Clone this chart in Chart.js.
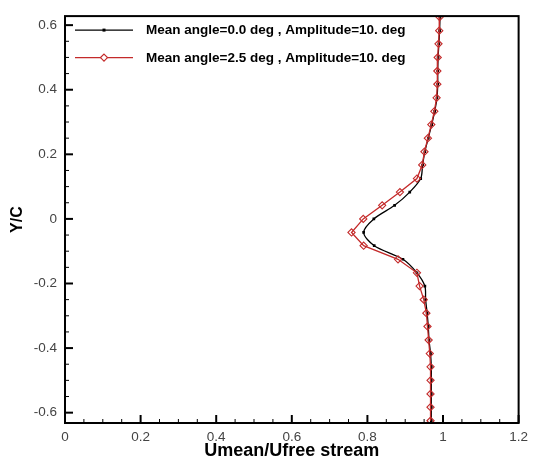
<!DOCTYPE html>
<html>
<head>
<meta charset="utf-8">
<script src="https://cdn.jsdelivr.net/npm/chart.js@4/dist/chart.umd.min.js"></script>
<style>
  html, body { margin: 0; padding: 0; background: #fff; }
  #wrap { width: 534px; height: 463px; }
</style>
</head>
<body>
<div id="wrap"><canvas id="profileChart"></canvas></div>
<script>
// wake profile, Y/C stations (top to bottom)
const yStations = [0.625, 0.583, 0.542, 0.5, 0.458, 0.417, 0.375, 0.333, 0.292, 0.25,
  0.208, 0.167, 0.125, 0.083, 0.042, 0, -0.042, -0.083, -0.125, -0.167,
  -0.208, -0.25, -0.292, -0.333, -0.375, -0.417, -0.458, -0.5, -0.542, -0.583, -0.625];

// Umean/Ufree stream, mean angle 0.0 deg
const uMean00 = [0.992, 0.991, 0.989, 0.987, 0.986, 0.986, 0.984, 0.978, 0.970, 0.961,
  0.952, 0.946, 0.941, 0.912, 0.872, 0.817, 0.790, 0.818, 0.894, 0.931,
  0.952, 0.954, 0.958, 0.961, 0.963, 0.967, 0.969, 0.969, 0.969, 0.969, 0.969];

// Umean/Ufree stream, mean angle 2.5 deg
const uMean25 = [0.991, 0.990, 0.988, 0.986, 0.985, 0.985, 0.983, 0.977, 0.969, 0.960,
  0.951, 0.945, 0.931, 0.886, 0.839, 0.789, 0.758, 0.790, 0.881, 0.931,
  0.938, 0.949, 0.956, 0.959, 0.962, 0.965, 0.967, 0.967, 0.967, 0.967, 0.967];

const seriesNames = ['Mean angle=0.0 deg , Amplitude=10. deg', 'Mean angle=2.5 deg , Amplitude=10. deg'];

const xTickLabels = [0, 0.2, 0.4, 0.6, 0.8, 1, 1.2];
const yTickLabels = [-0.6, -0.4, -0.2, 0, 0.2, 0.4, 0.6];

const redColor = '#c42a2a';
const fontFam = '"Liberation Sans", Arial, sans-serif';

function toPoints(u) {
    return u.map((v, i) => ({ x: v, y: yStations[i] }));
}

// major ticks from the label arrays, 3 minor ticks in between
function withMinor(labels, min, max) {
    const out = [];
    for (let i = 0; i < labels.length; i++) {
        out.push({ value: labels[i], major: true });
        const step = i + 1 < labels.length ? labels[i + 1] - labels[i] : labels[1] - labels[0];
        for (let k = 1; k < 4; k++) {
            const v = labels[i] + step * k / 4;
            if (v <= max) out.push({ value: v, major: false });
        }
    }
    const step0 = labels[1] - labels[0];
    for (let k = 1; k < 4; k++) {
        const v = labels[0] - step0 * k / 4;
        if (v >= min) out.unshift({ value: v, major: false });
    }
    return out;
}

const frame = {
    id: 'frame',
    afterDatasetsDraw(chart) {
        const { ctx, chartArea: a, scales } = chart;
        ctx.save();
        ctx.strokeStyle = '#000';
        // inward tick marks, left and bottom only
        scales.x.ticks.forEach(t => {
            const px = scales.x.getPixelForValue(t.value);
            ctx.lineWidth = t.major ? 2 : 1;
            ctx.beginPath();
            ctx.moveTo(px, a.bottom);
            ctx.lineTo(px, a.bottom - (t.major ? 8 : 4));
            ctx.stroke();
        });
        scales.y.ticks.forEach(t => {
            const py = scales.y.getPixelForValue(t.value);
            ctx.lineWidth = t.major ? 2 : 1;
            ctx.beginPath();
            ctx.moveTo(a.left, py);
            ctx.lineTo(a.left + (t.major ? 8 : 4), py);
            ctx.stroke();
        });
        ctx.lineWidth = 2;
        ctx.strokeRect(a.left, a.top, a.right - a.left, a.bottom - a.top);

        // legend in the top-left corner
        ctx.font = 'bold 13.5px ' + fontFam;
        ctx.textBaseline = 'middle';
        chart.data.datasets.forEach((ds, i) => {
            const y = a.top + 14 + i * 27.5;
            const x0 = a.left + 10, x1 = a.left + 68, xm = (x0 + x1) / 2;
            ctx.strokeStyle = ds.borderColor;
            ctx.lineWidth = 1.2;
            ctx.beginPath();
            ctx.moveTo(x0, y);
            ctx.lineTo(x1, y);
            ctx.stroke();
            if (i === 0) {
                ctx.fillStyle = ds.borderColor;
                ctx.fillRect(xm - 1.5, y - 1.5, 3, 3);
            } else {
                ctx.fillStyle = '#fff';
                ctx.beginPath();
                ctx.moveTo(xm, y - 3.5); ctx.lineTo(xm + 3.5, y); ctx.lineTo(xm, y + 3.5); ctx.lineTo(xm - 3.5, y);
                ctx.closePath();
                ctx.fill();
                ctx.stroke();
            }
            ctx.fillStyle = '#000';
            ctx.fillText(ds.label, a.left + 81, y + 0.5);
        });
        ctx.restore();
    }
};

new Chart(document.getElementById('profileChart'), {
    type: 'scatter',
    data: {
        datasets: [
            {
                label: seriesNames[0],
                data: toPoints(uMean00),
                order: 1,
                showLine: true,
                borderColor: '#000',
                backgroundColor: '#000',
                borderWidth: 1.3,
                tension: 0.3,
                pointStyle: 'rect',
                pointRadius: 1.9,
                pointBorderWidth: 0
            },
            {
                label: seriesNames[1],
                data: toPoints(uMean25),
                order: 0,
                showLine: true,
                borderColor: redColor,
                backgroundColor: 'rgba(255,255,255,0)',
                borderWidth: 1.3,
                tension: 0,
                pointStyle: 'rectRot',
                pointRadius: 3.6,
                pointBorderWidth: 1.1
            }
        ]
    },
    options: {
        responsive: true,
        maintainAspectRatio: false,
        animation: false,
        layout: { padding: { top: 12, right: 15, left: 0, bottom: 0 } },
        plugins: {
            legend: { display: false },
            tooltip: { enabled: false }
        },
        scales: {
            x: {
                type: 'linear',
                min: 0,
                max: 1.2,
                afterBuildTicks: s => { s.ticks = withMinor(xTickLabels, 0, 1.2); },
                afterFit: s => { s.height = 40; },
                grid: { display: false, drawTicks: false },
                border: { display: false },
                ticks: {
                    autoSkip: false,
                    maxRotation: 0,
                    padding: 6,
                    color: '#444',
                    font: { family: fontFam, size: 13.5 },
                    callback: function (v, i, ticks) { return ticks[i].major ? String(v) : ''; }
                },
                title: {
                    display: true,
                    text: 'Umean/Ufree stream',
                    color: '#000',
                    padding: { top: 0, bottom: 1 },
                    font: { family: fontFam, size: 18, weight: 'bold' }
                }
            },
            y: {
                type: 'linear',
                min: -0.632,
                max: 0.628,
                afterBuildTicks: s => { s.ticks = withMinor(yTickLabels, -0.632, 0.628); },
                afterFit: s => { s.width = 65; },
                grid: { display: false, drawTicks: false },
                border: { display: false },
                ticks: {
                    autoSkip: false,
                    padding: 8,
                    color: '#444',
                    font: { family: fontFam, size: 13.5 },
                    callback: function (v, i, ticks) { return ticks[i].major ? String(v) : ''; }
                },
                title: {
                    display: true,
                    text: 'Y/C',
                    color: '#000',
                    padding: { top: 8, bottom: 0 },
                    font: { family: fontFam, size: 16, weight: 'bold' }
                }
            }
        }
    },
    plugins: [frame]
});
</script>
</body>
</html>
